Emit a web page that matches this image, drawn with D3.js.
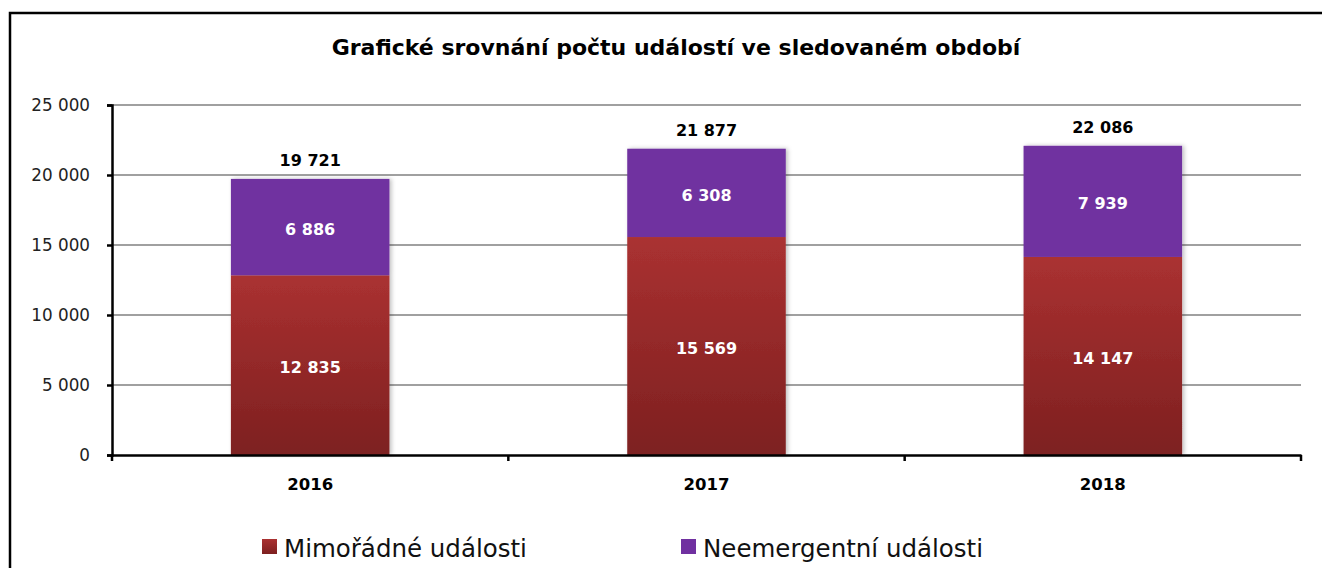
<!DOCTYPE html>
<html><head><meta charset="utf-8">
<script src="https://cdn.jsdelivr.net/npm/d3@7/dist/d3.min.js"></script>
<style>
html,body{margin:0;padding:0;background:#fff;}
svg{display:block;font-family:"DejaVu Sans",sans-serif;}
</style></head><body>
<svg id="chart" width="1322" height="568"></svg>
<script>
const title = "Grafické srovnání počtu událostí ve sledovaném období";
const categories = ["2016", "2017", "2018"];
const seriesNames = ["Mimořádné události", "Neemergentní události"];
const mimoradne = [12835, 15569, 14147];
const neemergentni = [6886, 6308, 7939];
const totals = [19721, 21877, 22086];
const yTicks = [0, 5000, 10000, 15000, 20000, 25000];

const svg = d3.select("#chart");
const fmt = v => d3.format(",")(v).replace(/,/g, " ");

// border
svg.append("rect").attr("x", 10).attr("y", 13).attr("width", 1330).attr("height", 600)
  .attr("fill", "none").attr("stroke", "#000").attr("stroke-width", 2.5);

const defs = svg.append("defs");
const grad = defs.append("linearGradient").attr("id", "redGrad").attr("x1", 0).attr("y1", 0).attr("x2", 0).attr("y2", 1);
grad.append("stop").attr("offset", "0%").attr("stop-color", "#AA3131");
grad.append("stop").attr("offset", "100%").attr("stop-color", "#7D2020");
const gradL = defs.append("linearGradient").attr("id", "redGradL").attr("x1", 0).attr("y1", 0).attr("x2", 0).attr("y2", 1);
gradL.append("stop").attr("offset", "0%").attr("stop-color", "#AA3131");
gradL.append("stop").attr("offset", "100%").attr("stop-color", "#7D2020");
const shadow = defs.append("filter").attr("id", "shadow").attr("x", "-10%").attr("y", "-10%").attr("width", "130%").attr("height", "130%");
shadow.append("feDropShadow").attr("dx", 2).attr("dy", 0).attr("stdDeviation", 2).attr("flood-color", "#000").attr("flood-opacity", 0.25);

const x0 = 112, x1 = 1301, yTop = 105, yBot = 455;
const x = d3.scaleBand().domain(categories).range([x0, x1]).paddingInner(0.6).paddingOuter(0.3);
const y = d3.scaleLinear().domain([0, 25000]).range([yBot, yTop]);

// title
svg.append("text").attr("x", 676).attr("y", 55).attr("text-anchor", "middle")
  .attr("font-weight", "bold").attr("font-size", 22).attr("fill", "#000").text(title);

// gridlines
svg.append("g").selectAll("line").data(yTicks.filter(d => d > 0)).join("line")
  .attr("x1", x0).attr("x2", x1).attr("y1", d => y(d)).attr("y2", d => y(d))
  .attr("stroke", "#A0A0A0").attr("stroke-width", 2);

// bars
const stack = d3.stack().keys([0, 1]).value((d, k) => k === 0 ? mimoradne[d] : neemergentni[d]);
const stacked = stack(d3.range(categories.length));
const fills = ["url(#redGrad)", "#7030A0"];
const gBars = svg.append("g").attr("filter", "url(#shadow)");
stacked.forEach((layer, k) => {
  gBars.selectAll(null).data(layer).join("rect")
    .attr("x", (d, i) => x(categories[i]))
    .attr("width", x.bandwidth())
    .attr("y", d => y(d[1]))
    .attr("height", d => y(d[0]) - y(d[1]))
    .attr("fill", fills[k]);
});
// segment labels
stacked.forEach((layer, k) => {
  const vals = k === 0 ? mimoradne : neemergentni;
  svg.append("g").selectAll("text").data(layer).join("text")
    .attr("x", (d, i) => x(categories[i]) + x.bandwidth() / 2)
    .attr("y", d => (y(d[0]) + y(d[1])) / 2 + 8)
    .attr("text-anchor", "middle").attr("font-weight", "bold").attr("font-size", 16)
    .attr("fill", "#fff").text((d, i) => fmt(vals[i]));
});
// totals
svg.append("g").selectAll("text").data(totals).join("text")
  .attr("x", (d, i) => x(categories[i]) + x.bandwidth() / 2)
  .attr("y", d => y(d) - 13)
  .attr("text-anchor", "middle").attr("font-weight", "bold").attr("font-size", 16)
  .attr("fill", "#000").text(d => fmt(d));

// y axis
const yAxis = svg.append("g").attr("transform", `translate(${x0},0)`)
  .call(d3.axisLeft(y).tickValues(yTicks).tickSize(5).tickPadding(17).tickFormat(fmt));
yAxis.select(".domain").attr("stroke", "#000").attr("stroke-width", 2.5);
yAxis.selectAll(".tick line").attr("stroke", "#000").attr("stroke-width", 2.5);
yAxis.selectAll(".tick text").attr("font-size", 16.8).attr("fill", "#222").attr("font-family", "DejaVu Sans").attr("dy", "0.35em");

// x axis
const xAxis = svg.append("g").attr("transform", `translate(0,${yBot})`)
  .call(d3.axisBottom(x).tickSize(0).tickPadding(23));
xAxis.select(".domain").attr("stroke", "#000").attr("stroke-width", 2.5);
xAxis.selectAll(".tick text").attr("font-size", 16.5).attr("font-weight", "bold").attr("fill", "#000").attr("font-family", "DejaVu Sans");
// category boundary ticks
const bounds = d3.range(categories.length + 1).map(i => x0 + i * (x1 - x0) / categories.length);
svg.append("g").selectAll("line").data(bounds).join("line")
  .attr("x1", d => d).attr("x2", d => d).attr("y1", yBot).attr("y2", yBot + 6)
  .attr("stroke", "#000").attr("stroke-width", 2.5);

// legend
const legendX = [262, 681];
const lg = svg.append("g");
seriesNames.forEach((name, i) => {
  lg.append("rect").attr("x", legendX[i]).attr("y", 539).attr("width", 15).attr("height", 15)
    .attr("fill", i === 0 ? "url(#redGradL)" : "#7030A0");
  lg.append("text").attr("x", legendX[i] + 22).attr("y", 557).attr("font-size", 24.5)
    .attr("fill", "#111").text(name);
});
</script>
</body></html>
